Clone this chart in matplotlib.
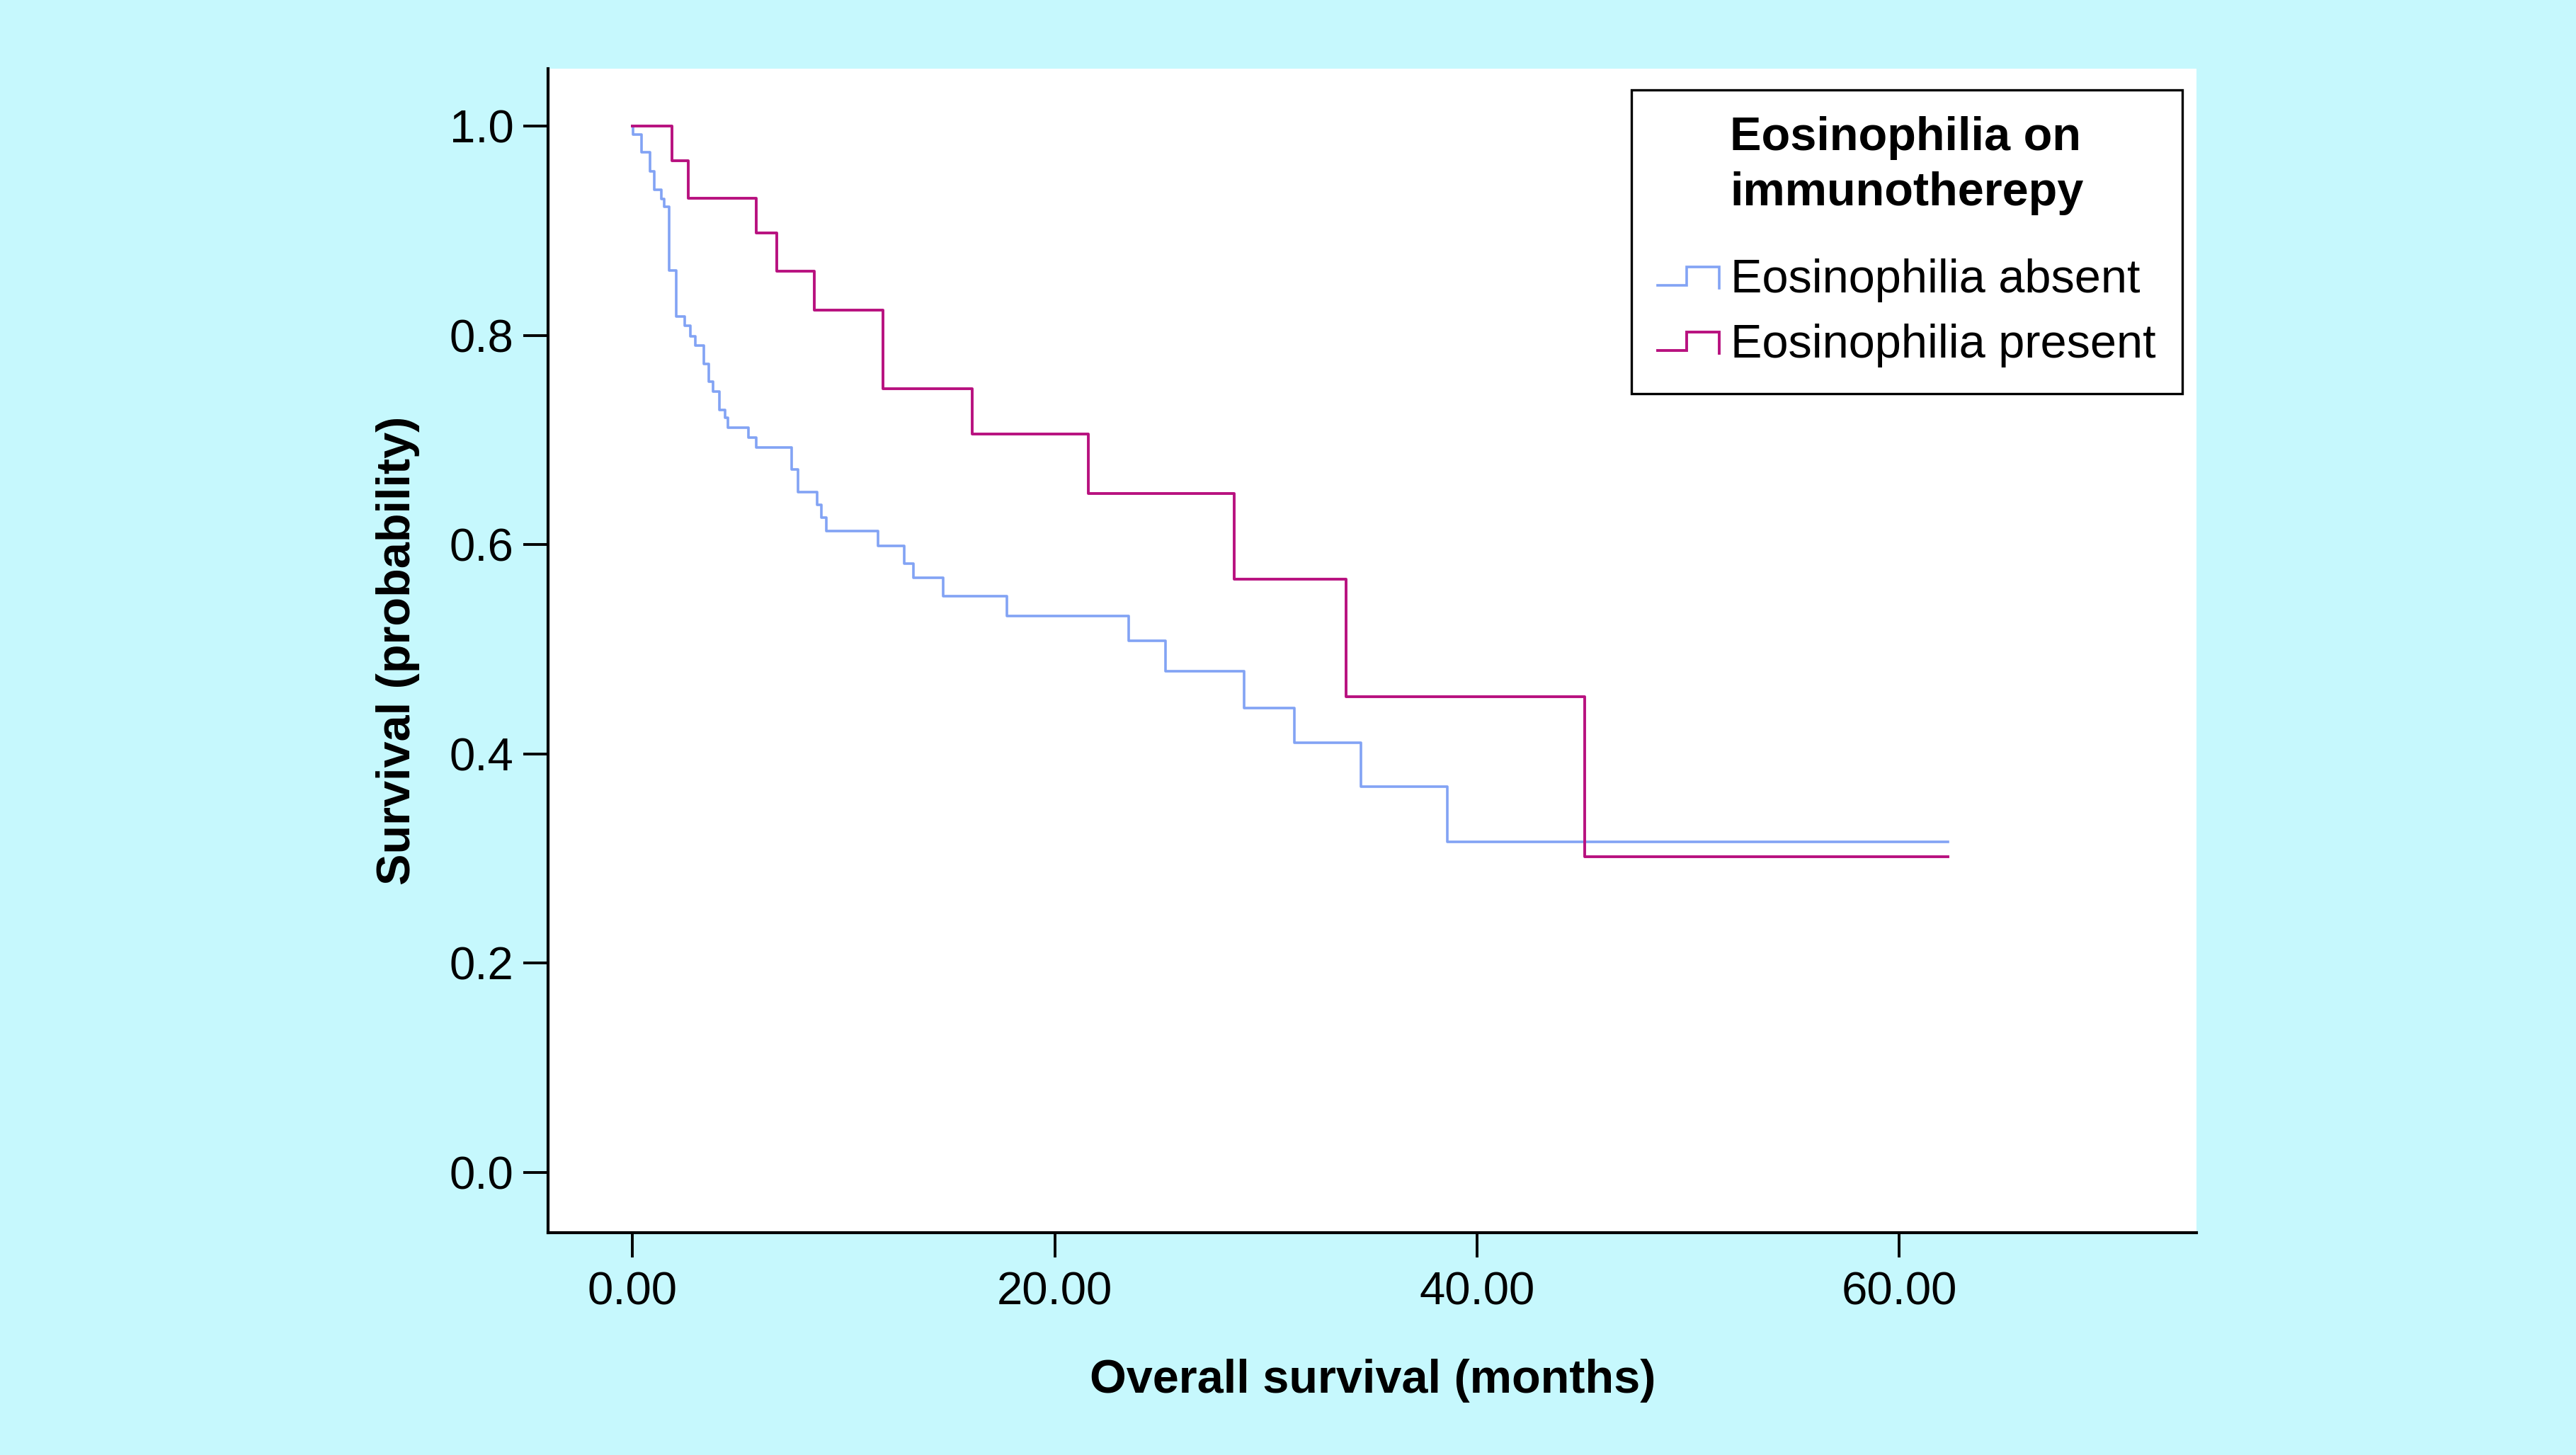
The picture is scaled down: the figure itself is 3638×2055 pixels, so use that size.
import numpy as np
import matplotlib
matplotlib.use('Agg')
import matplotlib.pyplot as plt
from matplotlib.lines import Line2D
from matplotlib.legend_handler import HandlerBase

#-------------------------------------------------------------------------------------
# Kaplan-Meier steps (time in months, survival after the step)
absent_time = [0.0, 0.02, 0.41, 0.82, 1.04, 1.35, 1.50, 1.73, 2.06, 2.48, 2.75, 2.97,
               3.39, 3.62, 3.80, 4.10, 4.37, 4.53, 5.50, 5.85, 7.53, 7.83, 8.75, 8.93,
               9.17, 11.63, 12.86, 13.29, 14.72, 17.72, 23.5, 25.25, 28.98, 31.34,
               34.49, 38.6, 62.3]
absent_surv = [1.0, 0.992, 0.975, 0.957, 0.939, 0.930, 0.923, 0.862, 0.818, 0.809, 0.799, 0.790,
               0.773, 0.756, 0.746, 0.729, 0.721, 0.712, 0.702, 0.693, 0.672, 0.650, 0.638, 0.626,
               0.613, 0.599, 0.582, 0.568, 0.551, 0.532, 0.508, 0.479, 0.444, 0.411,
               0.369, 0.316, 0.316]

present_time = [0.0, 1.86, 2.65, 5.85, 6.83, 8.61, 11.86, 16.08, 21.6, 28.5, 33.8, 45.1, 62.3]
present_surv = [1.0, 0.967, 0.931, 0.898, 0.861, 0.824, 0.749, 0.706, 0.649, 0.567, 0.455, 0.302, 0.302]

series_labels = ['Eosinophilia absent', 'Eosinophilia present']
legend_title = 'Eosinophilia on\nimmunotherepy'
x_ticks = [0, 20, 40, 60]
y_ticks = [0.0, 0.2, 0.4, 0.6, 0.8, 1.0]

blue = '#82A3F4'
magenta = '#B8117F'
bg = '#C6F8FD'

plt.rcParams['font.family'] = ['Liberation Sans', 'DejaVu Sans']


# legend icon drawn as a little step, like the SPSS output
class StepHandler(HandlerBase):
    def create_artists(self, legend, orig_handle, xdescent, ydescent, width, height, fontsize, trans):
        xs = np.array([0, 0.47, 0.47, 1.0, 1.0]) * width - xdescent
        ys = np.array([0.22, 0.22, 0.78, 0.78, 0.14]) * height - ydescent
        ln = Line2D(xs, ys, color=orig_handle.get_color(), lw=orig_handle.get_linewidth(),
                    solid_joinstyle='miter')
        ln.set_transform(trans)
        return [ln]


#-------------------------------------------------------------------------------------
fig = plt.figure(figsize=(18.19, 10.275), dpi=200, facecolor=bg)
ax = fig.add_axes([0.2128, 0.1528, 0.64, 0.80])
ax.set_facecolor('white')

l1, = ax.step(absent_time, absent_surv, where='post', color=blue, lw=1.3, label=series_labels[0])
l2, = ax.step(present_time, present_surv, where='post', color=magenta, lw=1.4, label=series_labels[1])

ax.set_xlim(-4, 74.1)
ax.set_ylim(-0.0575, 1.0548)
ax.set_xticks(x_ticks)
ax.set_xticklabels(['%.2f' % v for v in x_ticks])
ax.set_yticks(y_ticks)
ax.set_yticklabels(['%.1f' % v for v in y_ticks])

for s in ['top', 'right']:
    ax.spines[s].set_visible(False)
for s in ['left', 'bottom']:
    ax.spines[s].set_linewidth(1.5)
ax.tick_params(axis='both', length=12.5, width=1.4, labelsize=23.5, color='black')
ax.tick_params(axis='x', pad=7)
ax.tick_params(axis='y', pad=5)

ax.set_xlabel('Overall survival (months)', fontsize=24, fontweight='bold', labelpad=23)
ax.set_ylabel('Survival (probability)', fontsize=24, fontweight='bold', labelpad=15)

leg = ax.legend(handles=[l1, l2], title=legend_title, loc='upper right',
                bbox_to_anchor=(0.991, 0.9818), borderaxespad=0, fontsize=24,
                title_fontproperties={'weight': 'bold', 'size': 24},
                handler_map={Line2D: StepHandler()}, handlelength=1.3, handletextpad=0.25,
                labelspacing=0.45, borderpad=0.55, fancybox=False, framealpha=1,
                edgecolor='black')
leg.get_frame().set_linewidth(1.2)
leg.get_title().set_linespacing(1.35)
leg._legend_box.sep = 22

fig.savefig('out.png', dpi=200, facecolor=bg)
